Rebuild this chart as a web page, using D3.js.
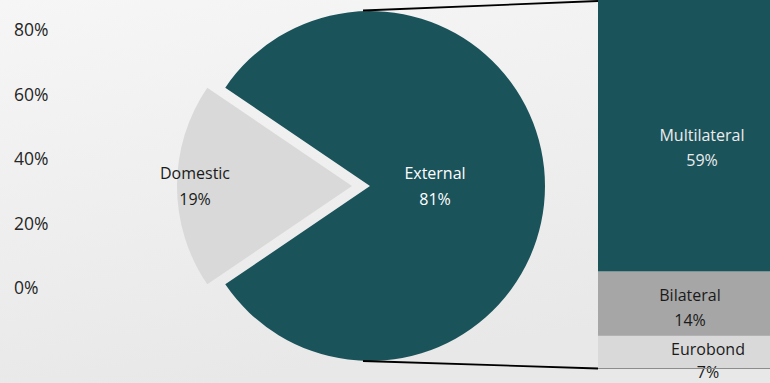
<!DOCTYPE html>
<html><head><meta charset="utf-8">
<script src="https://cdn.jsdelivr.net/npm/d3@7"></script>
<style>html,body{margin:0;padding:0;overflow:hidden;}svg{display:block;font-family:"Open Sans",sans-serif;}</style>
</head><body>
<script>
const pieCategories = ["External", "Domestic"];
const pieValues = [81, 19];
const barCategories = ["Multilateral", "Bilateral", "Eurobond"];
const barValues = [59, 14, 7];
const axisTicks = [0, 20, 40, 60, 80];
const axisLabels = ["0%", "20%", "40%", "60%", "80%"];

const W = 770, H = 383;
const svg = d3.select("body").append("svg").attr("width", W).attr("height", H);
const defs = svg.append("defs");
const grad = defs.append("linearGradient").attr("id", "bg").attr("x1", "0").attr("y1", "0").attr("x2", "0.3").attr("y2", "1");
grad.append("stop").attr("offset", "0").attr("stop-color", "#f6f6f6");
grad.append("stop").attr("offset", "1").attr("stop-color", "#e8e8e8");
svg.append("rect").attr("width", W).attr("height", H).attr("fill", "url(#bg)");

// axis labels
const yAxis = d3.scaleLinear().domain([0, 80]).range([288, 30]);
svg.append("g").selectAll("text").data(axisTicks).join("text")
  .attr("x", 14).attr("y", d => yAxis(d)).attr("dy", "0.36em")
  .attr("font-size", 17.5).attr("fill", "#262626")
  .text((d, i) => axisLabels[i]);

// pie
const cx = 370, cy = 186, R = 175;
const total = d3.sum(pieValues);
const domAngle = 2 * Math.PI * pieValues[1] / total;
const start = -Math.PI / 2 + domAngle / 2;
const pie = d3.pie().sort(null).startAngle(start).endAngle(start + 2 * Math.PI);
const arcs = pie(pieValues);
const arc = d3.arc().innerRadius(0).outerRadius(R);
const pieColors = ["#1b535b", "#d9d9d9"];
const explode = [0, 18];
const pg = svg.append("g").attr("transform", `translate(${cx},${cy})`);
pg.selectAll("path").data(arcs).join("path")
  .attr("d", arc).attr("fill", (d, i) => pieColors[i])
  .attr("transform", (d, i) => {
    const a = (d.startAngle + d.endAngle) / 2;
    return `translate(${Math.sin(a) * explode[i]},${-Math.cos(a) * explode[i]})`;
  });
const pieLabelPos = [[65, 0], [-175, 0]];
const pieTextColors = ["#ffffff", "#1a1a1a"];
arcs.forEach((d, i) => {
  const t = pg.append("text").attr("text-anchor", "middle").attr("font-size", 16).attr("fill", pieTextColors[i]);
  t.append("tspan").attr("x", pieLabelPos[i][0]).attr("y", pieLabelPos[i][1] - 7).text(pieCategories[i]);
  t.append("tspan").attr("x", pieLabelPos[i][0]).attr("y", pieLabelPos[i][1] + 19).text(pieValues[i] + "%");
});

// bar
const x0 = 598, bw = 180;
const yBar = d3.scaleLinear().domain([0, d3.sum(barValues)]).range([368, 0]);
const stackData = [];
let acc = 0;
for (let i = barValues.length - 1; i >= 0; i--) {
  stackData.push({ name: barCategories[i], v: barValues[i], y0: acc, y1: acc + barValues[i], i });
  acc += barValues[i];
}
const barColors = ["#1b535b", "#a6a6a6", "#d9d9d9"];
const barText = ["#ececec", "#1a1a1a", "#1a1a1a"];
const bg = svg.append("g");
bg.selectAll("rect").data(stackData).join("rect")
  .attr("x", x0).attr("width", bw)
  .attr("y", d => yBar(d.y1)).attr("height", d => yBar(d.y0) - yBar(d.y1))
  .attr("fill", d => barColors[d.i]);
svg.append("line").attr("x1", x0).attr("x2", W).attr("y1", yBar(0) + 0.5).attr("y2", yBar(0) + 0.5)
  .attr("stroke", "#8c8c8c").attr("stroke-width", 1);
const labelX = [702, 690, 708];
stackData.forEach(d => {
  const t = bg.append("text").attr("text-anchor", "middle").attr("font-size", 16).attr("fill", barText[d.i]);
  const y = d.i === 0 ? 141 : d.i === 1 ? 301 : 355;
  const gap = d.i === 2 ? 23 : 25;
  t.append("tspan").attr("x", labelX[d.i]).attr("y", y).text(d.name);
  t.append("tspan").attr("x", labelX[d.i]).attr("y", y + gap).text(d.v + "%");
});

// connector lines
svg.append("line").attr("x1", cx - 7).attr("y1", cy - R - 0.5).attr("x2", x0).attr("y2", yBar(acc) + 1)
  .attr("stroke", "#000").attr("stroke-width", 1.8);
svg.append("line").attr("x1", cx - 7).attr("y1", cy + R).attr("x2", x0).attr("y2", yBar(0) + 0.5)
  .attr("stroke", "#000").attr("stroke-width", 1.8);
</script>
</body></html>
